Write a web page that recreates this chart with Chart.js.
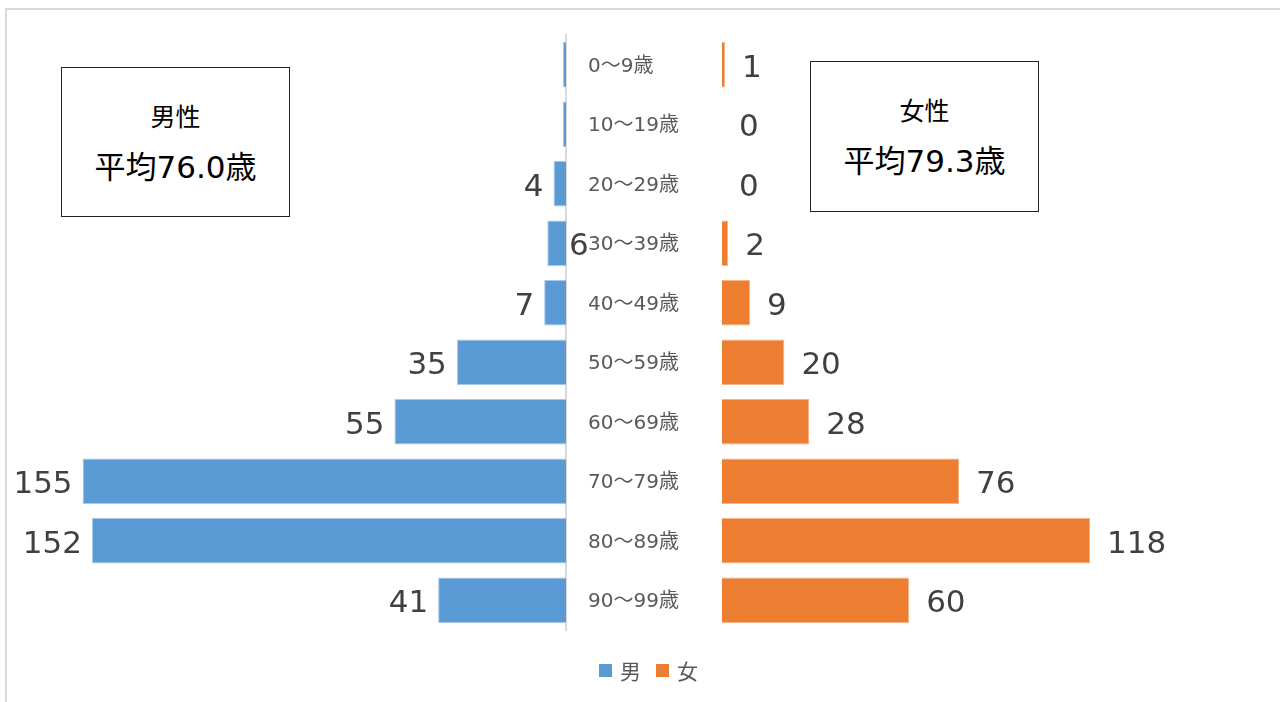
<!DOCTYPE html>
<html lang="ja">
<head>
<meta charset="utf-8">
<title>年齢別 男女構成</title>
<script src="https://cdn.jsdelivr.net/npm/chart.js@4/dist/chart.umd.min.js"></script>
<style>
  html, body { margin: 0; padding: 0; background: #fff; }
  body { width: 1280px; height: 702px; position: relative; overflow: hidden;
         font-family: 'DejaVu Sans', 'Noto Sans CJK JP', sans-serif; }
  .frame { position: absolute; left: 5px; top: 8px; width: 1300px; height: 720px;
           border: 2px solid #d9d9d9; box-sizing: border-box; }
  .wrap { position: absolute; top: 0; height: 702px; }
  #leftWrap { left: 0; width: 722px; }
  #rightWrap { left: 722px; width: 558px; }
  .note { position: absolute; border: 1.5px solid #222; box-sizing: border-box;
          background: #fff; color: #000; text-align: center; }
  .note .t1 { position: absolute; left: 0; right: 0; top: 29px; font-size: 25px; }
  .note .t2 { position: absolute; left: 0; right: 0; top: 74px; font-size: 31px; }
  .legend { position: absolute; top: 655px; left: 599px; display: flex; align-items: center;
            color: #595959; font-size: 21px; }
  .legend i { display: inline-block; width: 13px; height: 13px; margin-right: 8px; }
  .legend span { margin-right: 15px; }
</style>
</head>
<body>
<div class="frame"></div>
<div class="wrap" id="leftWrap"><canvas id="maleChart"></canvas></div>
<div class="wrap" id="rightWrap"><canvas id="femaleChart"></canvas></div>

<div class="note" style="left:61px; top:67px; width:229px; height:150px;">
  <div class="t1">男性</div>
  <div class="t2">平均76.0歳</div>
</div>
<div class="note" style="left:810px; top:61px; width:229px; height:151px;">
  <div class="t1">女性</div>
  <div class="t2">平均79.3歳</div>
</div>

<div class="legend">
  <i style="background:#5b9bd5"></i><span>男</span>
  <i style="background:#ed7d31"></i><span>女</span>
</div>

<script>
// age groups (top to bottom)
const ageGroups = ['0～9歳', '10～19歳', '20～29歳', '30～39歳', '40～49歳',
                   '50～59歳', '60～69歳', '70～79歳', '80～89歳', '90～99歳'];
const maleCounts = [1, 1, 4, 6, 7, 35, 55, 155, 152, 41];
const femaleCounts = [1, 0, 0, 2, 9, 20, 28, 76, 118, 60];
// where each male label goes: 'out' = past bar end, 'in' = right of the axis, null = no label
const maleLabelPlacement = [null, null, 'out', 'in', 'out', 'out', 'out', 'out', 'out', 'out'];
const axisMax = 160;

const MALE = '#5b9bd5';
const FEMALE = '#ed7d31';
const LABEL_FONT = "31px 'DejaVu Sans', 'Noto Sans CJK JP', sans-serif";

// draws the value next to each bar
const valueLabels = {
    id: 'valueLabels',
    afterDatasetsDraw(chart, args, opts) {
        const ctx = chart.ctx;
        const meta = chart.getDatasetMeta(0);
        const values = chart.data.datasets[0].data;
        ctx.save();
        ctx.font = LABEL_FONT;
        ctx.fillStyle = '#404040';
        ctx.textBaseline = 'middle';
        meta.data.forEach((bar, i) => {
            const y = bar.y + 4;
            if (opts.side === 'left') {
                const place = maleLabelPlacement[i];
                if (!place) return;
                if (place === 'in') {
                    ctx.textAlign = 'left';
                    ctx.fillText(String(values[i]), bar.base + 3, y);
                } else {
                    ctx.textAlign = 'right';
                    ctx.fillText(String(values[i]), bar.x - 10, y);
                }
            } else {
                ctx.textAlign = 'left';
                ctx.fillText(String(values[i]), bar.x + 17, y);
            }
        });
        ctx.restore();
    }
};

Chart.defaults.animation = false;
Chart.defaults.font.family = "'DejaVu Sans', 'Noto Sans CJK JP', sans-serif";

const maleChart = new Chart(document.getElementById('maleChart'), {
    type: 'bar',
    data: {
        labels: ageGroups,
        datasets: [{
            label: '男',
            data: maleCounts,
            backgroundColor: MALE,
            borderColor: '#a9c9e8',
            borderWidth: 1,
            barPercentage: 0.765,
            categoryPercentage: 1
        }]
    },
    options: {
        indexAxis: 'y',
        responsive: true,
        maintainAspectRatio: false,
        layout: { padding: { left: 67, top: 35, bottom: 72, right: 0 } },
        plugins: {
            legend: { display: false },
            tooltip: { enabled: false },
            valueLabels: { side: 'left' }
        },
        scales: {
            x: { display: false, reverse: true, min: 0, max: axisMax },
            y: {
                position: 'right',
                grid: { display: false, drawTicks: false },
                border: { display: true, color: '#d9d9d9', width: 2 },
                ticks: {
                    color: '#595959',
                    font: { size: 20 },
                    crossAlign: 'near',
                    padding: 22,
                    labelOffset: 2
                },
                afterFit(scale) { scale.width = 156; }
            }
        }
    },
    plugins: [valueLabels]
});

const femaleChart = new Chart(document.getElementById('femaleChart'), {
    type: 'bar',
    data: {
        labels: ageGroups,
        datasets: [{
            label: '女',
            data: femaleCounts,
            backgroundColor: FEMALE,
            borderColor: '#f5b58c',
            borderWidth: 1,
            barPercentage: 0.765,
            categoryPercentage: 1
        }]
    },
    options: {
        indexAxis: 'y',
        responsive: true,
        maintainAspectRatio: false,
        layout: { padding: { left: 0, top: 35, bottom: 72, right: 59 } },
        plugins: {
            legend: { display: false },
            tooltip: { enabled: false },
            valueLabels: { side: 'right' }
        },
        scales: {
            x: { display: false, min: 0, max: axisMax },
            y: { display: false }
        }
    },
    plugins: [valueLabels]
});
</script>
</body>
</html>
